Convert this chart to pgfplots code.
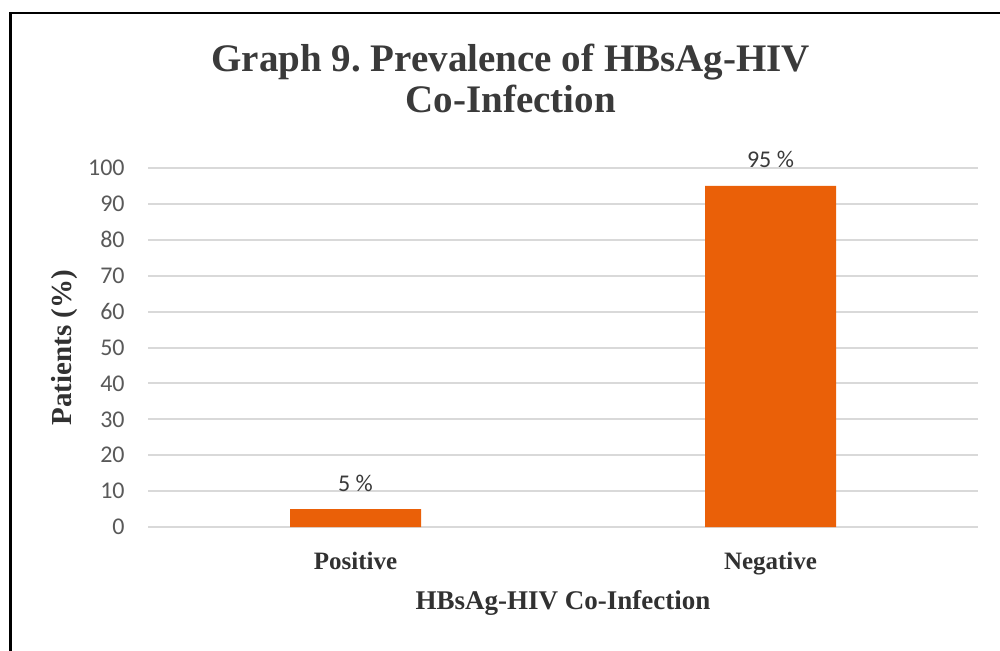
\documentclass[border=0pt]{standalone}
\usepackage{pgfplots}
\pgfplotsset{compat=1.18}
\usepackage{fontspec}
\setmainfont{Liberation Serif}
\newfontfamily\carlito{Carlito}
\frenchspacing
\definecolor{barorange}{RGB}{234,96,8}
\definecolor{gridgray}{RGB}{217,217,217}
\definecolor{tickgray}{RGB}{89,89,89}
\definecolor{titlegray}{RGB}{58,58,58}
\begin{document}
\begin{tikzpicture}
\useasboundingbox (0,0) rectangle (500pt,325pt);
\begin{axis}[
  at={(74pt,61.5pt)}, anchor=south west,
  scale only axis, width=415pt, height=179.5pt,
  xmin=-0.5, xmax=1.5, ymin=0, ymax=100,
  ybar, bar width=65.5pt,
  xtick=data, xticklabels={Positive,Negative},
  ytick={0,10,...,100},
  axis line style={draw=none},
  major tick length=0pt,
  ymajorgrids, grid style={gridgray, line width=1pt},
  /pgf/number format/assume math mode=true,
  yticklabel style={font=\carlito\fontsize{12}{14}\selectfont, text=tickgray, anchor=east, inner sep=0pt, xshift=-11.5pt},
  xticklabel style={font=\bfseries\fontsize{12.5}{15}\selectfont, text=titlegray!85!black, anchor=base, inner sep=0pt, yshift=-21pt},
  xlabel={HBsAg-HIV Co-Infection},
  xlabel style={font=\bfseries\fontsize{13.5}{16}\selectfont, text=titlegray!85!black, at={(axis description cs:0.5,0)}, anchor=base, inner sep=0pt, yshift=-41pt},
  ylabel={Patients (\%)},
  ylabel style={font=\bfseries\fontsize{14.5}{17}\selectfont, text=titlegray!85!black, at={(axis description cs:-0.0916,0.5)}, anchor=base, inner sep=0pt},
  title={\begin{tabular}[t]{@{}c@{}}Graph 9. Prevalence of HBsAg-HIV\\Co-Infection\end{tabular}},
  title style={font=\bfseries\fontsize{19.5}{20.5}\selectfont, text=titlegray, at={(axis description cs:0.437,1)}, anchor=base, inner sep=0pt, yshift=42.5pt},
  nodes near coords={\pgfmathprintnumber{\pgfplotspointmeta}\ \%},
  nodes near coords style={font=\carlito\fontsize{12}{14}\selectfont, text=titlegray, anchor=base, inner sep=0pt, yshift=9pt},
  clip=false,
]
\addplot[fill=barorange, draw=none] coordinates {(0,5) (1,95)};
\end{axis}
\draw[line width=1.4pt, black] (5.35pt,-5pt) -- (5.35pt,318.5pt) -- (505pt,318.5pt);
\end{tikzpicture}
\end{document}
